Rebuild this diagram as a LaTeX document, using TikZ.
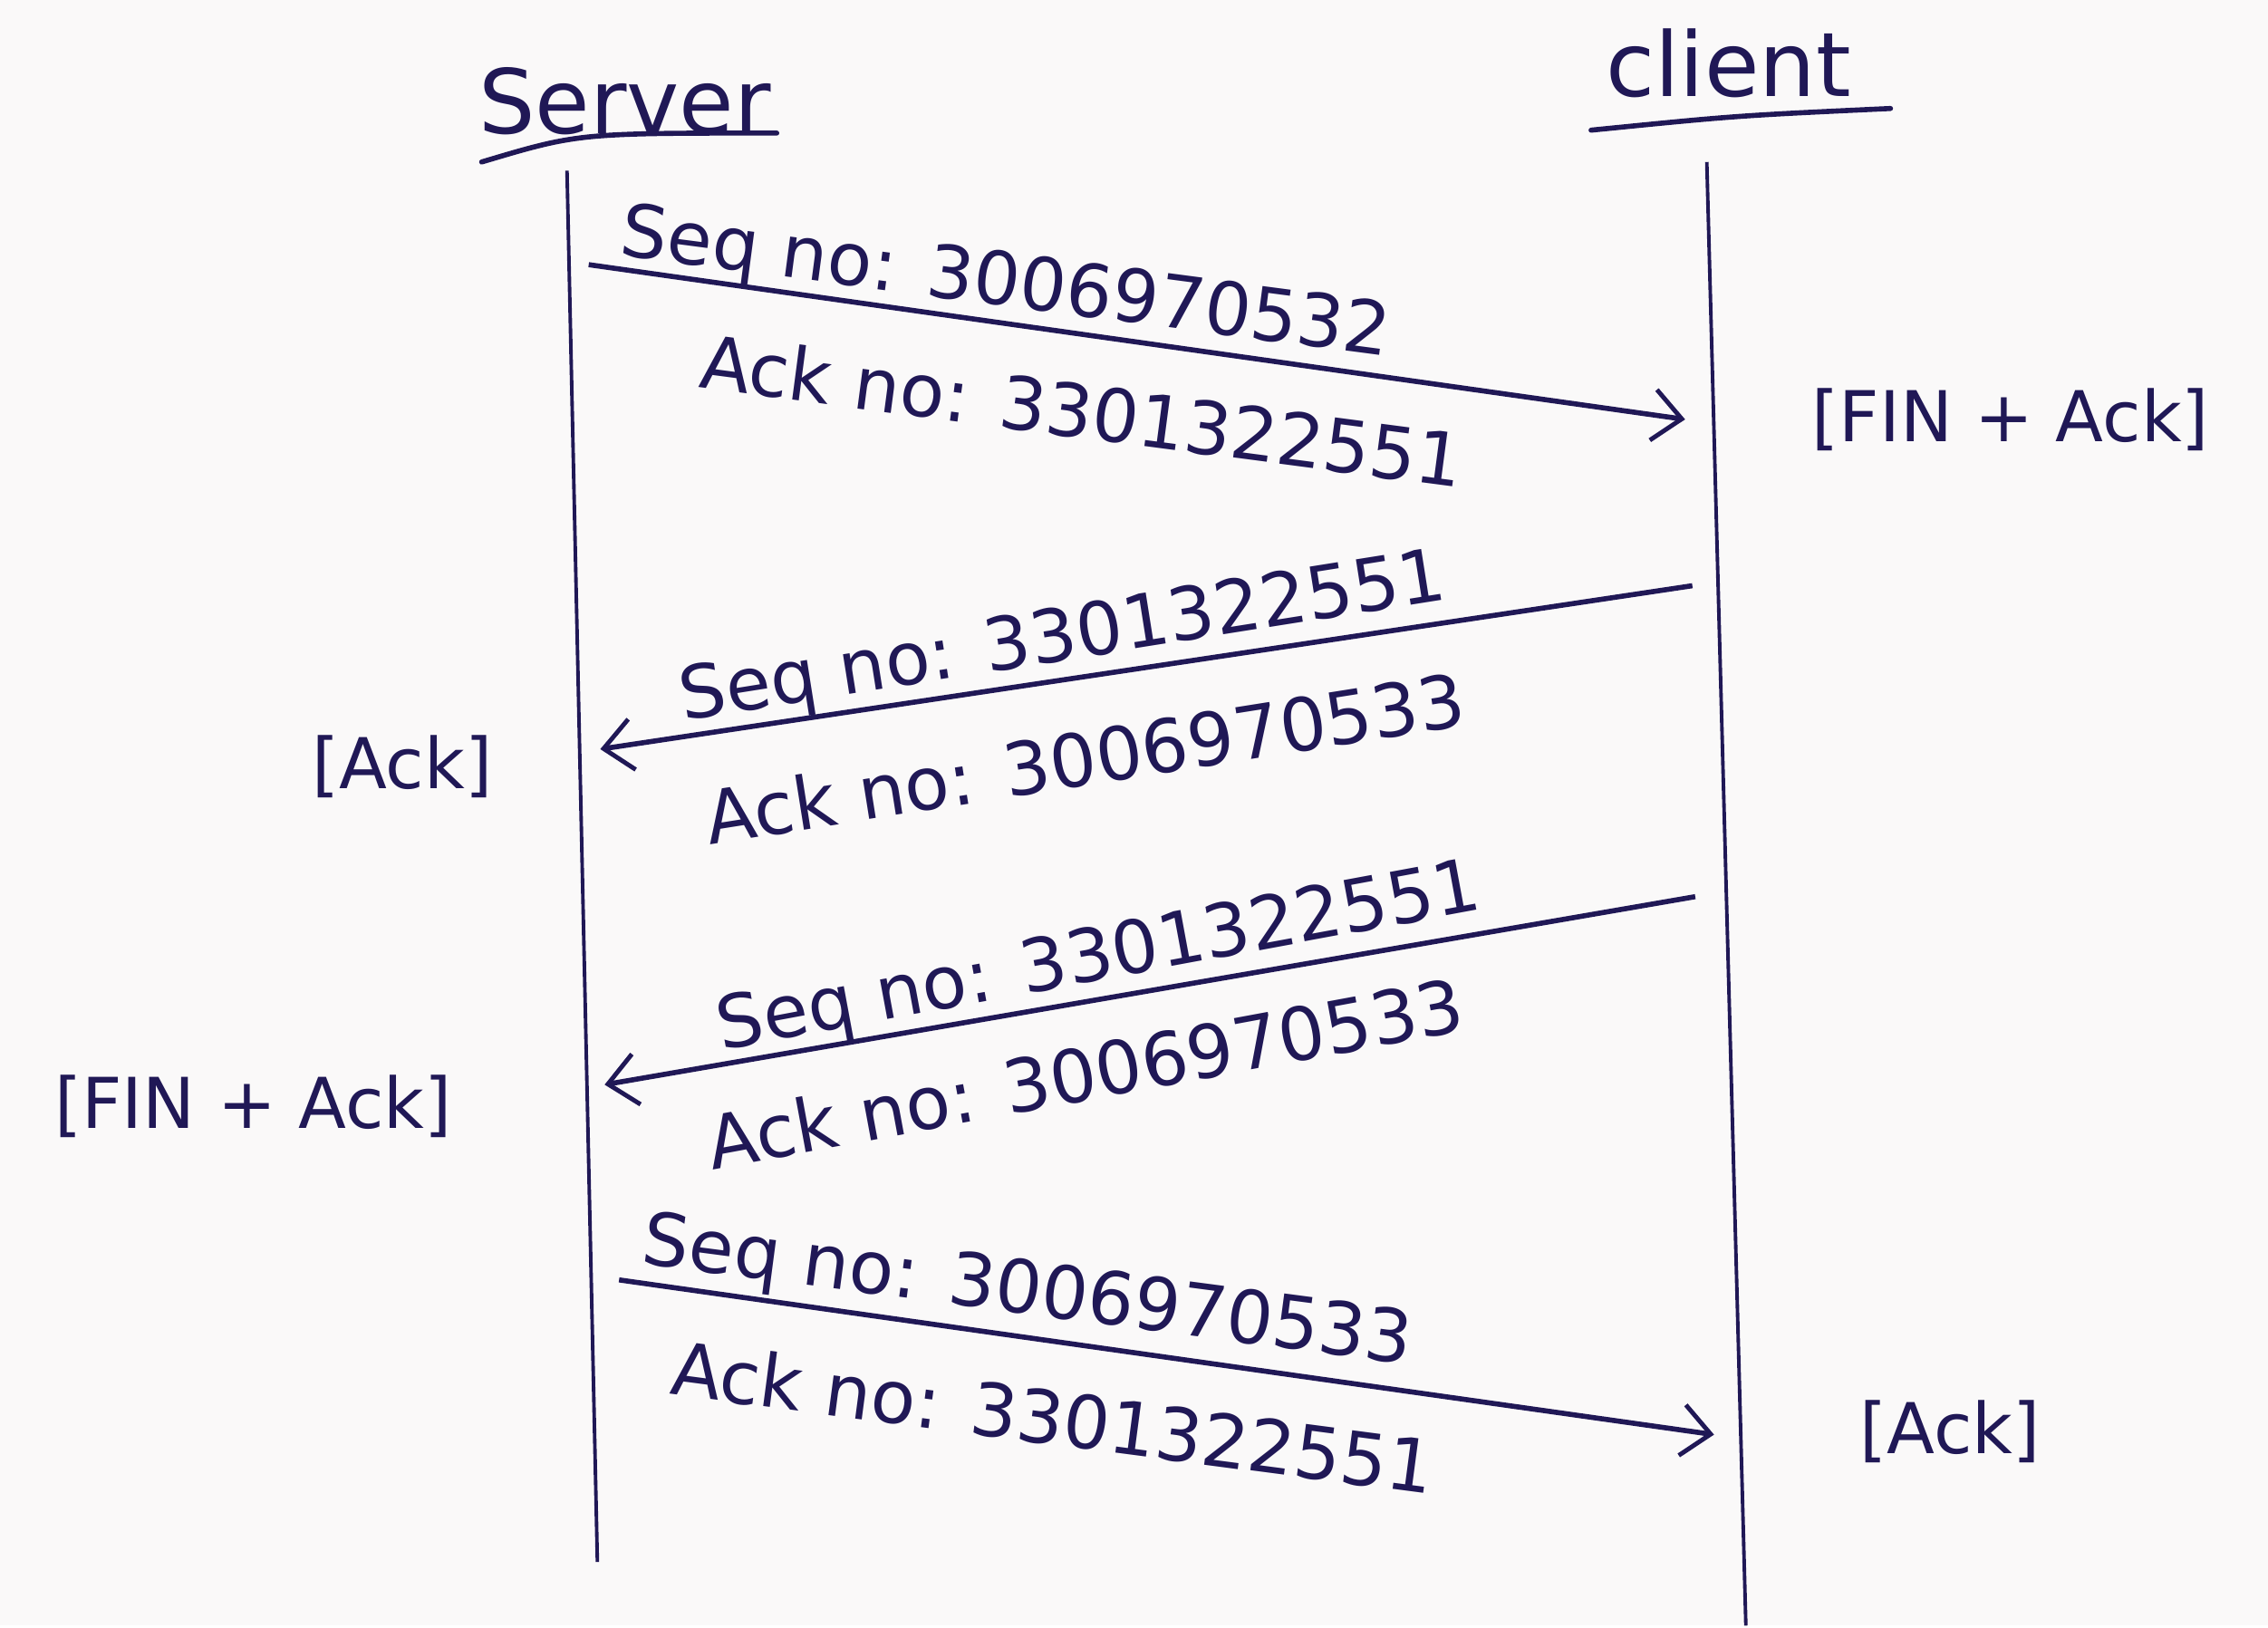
\documentclass[tikz,border=0pt]{standalone}
\usepackage{fontspec}
\setmainfont{DejaVu Sans}
\usetikzlibrary{arrows.meta}
\definecolor{ink}{RGB}{32,24,86}
\definecolor{paper}{RGB}{250,249,249}
\tikzset{
  lifeline/.style = {ink, line width=1.1pt},
  underline/.style = {ink, line width=1.6pt, line cap=round},
  msg/.style = {ink, line width=1.6pt,
    -{Straight Barb[length=9pt,width=16pt,line width=1.4pt]}},
  field/.style = {ink, inner sep=0pt, font=\fontsize{23}{27}\selectfont},
  flag/.style = {ink, inner sep=0pt, font=\fontsize{22}{26}\selectfont},
  header/.style = {ink, inner sep=0pt, font=\fontsize{28}{32}\selectfont}
}

\begin{document}
\begin{tikzpicture}[x=0.1596mm,y=-0.1596mm]
  \fill[paper] (0,0) rectangle (1568,1124);

  % the two ends
  \node[header] (server) at (432,70) {Server};
  \node[header] (client) at (1195,44) {client};
  \coordinate (server ul) at (333,112);
  \coordinate (server ur) at (537,92);
  \coordinate (client ul) at (1100,90);
  \coordinate (client ur) at (1307,75);
  \draw[underline] (server ul) .. controls (400,92) .. (server ur);
  \draw[underline] (client ul) .. controls (1200,80) .. (client ur);

  % lifelines
  \coordinate (server top) at (392,118);
  \coordinate (server bot) at (413,1080);
  \coordinate (client top) at (1180,112);
  \coordinate (client bot) at (1207,1124);
  \draw[lifeline] (server top) -- (server bot);
  \draw[lifeline] (client top) -- (client bot);

  % FIN from server
  \coordinate (m1s) at (407,183);
  \coordinate (m1e) at (1165,290);
  \draw[msg] (m1s) -- (m1e);
  \node[field,rotate=-7.5] (seq1) at (695,198) {Seq no: 3006970532};
  \node[field,rotate=-7.5] (ack1) at (748,284) {Ack no: 3301322551};
  \node[flag] (fin1) at (1390,290) {[FIN + Ack]};

  % ack from client
  \coordinate (m2s) at (1170,405);
  \coordinate (m2e) at (415,518);
  \draw[msg] (m2s) -- (m2e);
  \node[field,rotate=9] (seq2) at (735,443) {Seq no: 3301322551};
  \node[field,rotate=9] (ack2) at (750,524) {Ack no: 3006970533};
  \node[flag] (ack2flag) at (278,530) {[Ack]};

  % FIN from client
  \coordinate (m3s) at (1172,620);
  \coordinate (m3e) at (418,750);
  \draw[msg] (m3s) -- (m3e);
  \node[field,rotate=10.5] (seq3) at (760,664) {Seq no: 3301322551};
  \node[field,rotate=10.5] (ack3) at (750,742) {Ack no: 3006970533};
  \node[flag] (fin3) at (175,765) {[FIN + Ack]};

  % last ack
  \coordinate (m4s) at (428,885);
  \coordinate (m4e) at (1185,992);
  \draw[msg] (m4s) -- (m4e);
  \node[field,rotate=-7.5] (seq4) at (710,895) {Seq no: 3006970533};
  \node[field,rotate=-7.5] (ack4) at (728,980) {Ack no: 3301322551};
  \node[flag] (ack4flag) at (1348,990) {[Ack]};
\end{tikzpicture}
\end{document}
